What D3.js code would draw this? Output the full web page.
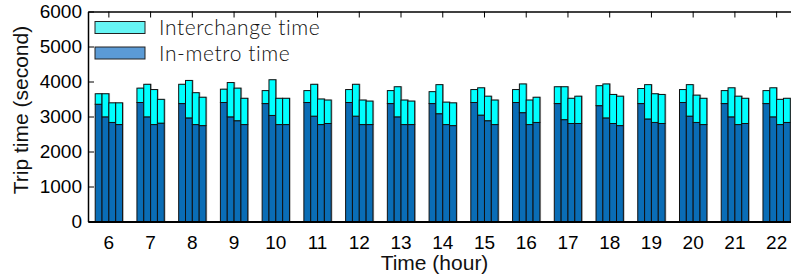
<!DOCTYPE html>
<html lang="en">
<head>
    <meta charset="UTF-8">
    <title>Trip time</title>
    <style>
        body { margin: 0; background: #fff; }
        svg { display: block; }
    </style>
</head>
<body></body>
<script src="https://cdn.jsdelivr.net/npm/d3@7"></script>
<script>
    // hours of the day
    let hours = [6, 7, 8, 9, 10, 11, 12, 13, 14, 15, 16, 17, 18, 19, 20, 21, 22];

    // in-metro time, one array per bar in each group
    let inMetro1 = [3350, 3400, 3370, 3400, 3370, 3400, 3400, 3370, 3370, 3400, 3400, 3370, 3310, 3370, 3400, 3370, 3370];
    let inMetro2 = [2990, 2990, 2960, 2990, 3030, 3010, 3010, 2990, 3080, 3040, 3110, 2910, 2960, 2930, 3010, 2990, 2990];
    let inMetro3 = [2830, 2770, 2770, 2880, 2770, 2770, 2770, 2770, 2770, 2880, 2770, 2800, 2800, 2830, 2830, 2770, 2770];
    let inMetro4 = [2770, 2810, 2740, 2770, 2770, 2800, 2770, 2770, 2740, 2770, 2830, 2800, 2740, 2800, 2770, 2800, 2830];

    // interchange time on top
    let interchange1 = [300, 410, 550, 380, 370, 340, 370, 370, 340, 370, 370, 480, 570, 430, 370, 370, 370];
    let interchange2 = [660, 930, 1070, 980, 1020, 910, 910, 860, 830, 780, 820, 940, 970, 980, 900, 830, 830];
    let interchange3 = [560, 1000, 910, 930, 750, 730, 700, 700, 640, 700, 700, 720, 830, 820, 780, 810, 720];
    let interchange4 = [620, 680, 810, 750, 750, 670, 670, 670, 650, 700, 720, 780, 840, 830, 750, 720, 690];

    let yTicks = [0, 1000, 2000, 3000, 4000, 5000, 6000];
    let legendLabels = ["Interchange time", "In-metro time"];

    let inMetro = [inMetro1, inMetro2, inMetro3, inMetro4];
    let interchange = [interchange1, interchange2, interchange3, interchange4];

    let width = 791;
    let height = 280;
    let plotLeft = 88, plotRight = 797.5, plotTop = 11.5, plotBottom = 221.5;

    let svg = d3.select("body")
                .append("svg")
                .attr("width", width)
                .attr("height", height)
                .style("font-family", "'Liberation Sans', Arial, sans-serif");

    let x = d3.scaleBand()
              .domain(hours)
              .range([plotLeft, plotRight])
              .paddingInner(0.345)
              .paddingOuter(0.1725);

    let xSub = d3.scaleBand()
                 .domain([0, 1, 2, 3])
                 .range([0, x.bandwidth()]);

    let y = d3.scaleLinear()
              .domain([0, 6000])
              .range([plotBottom, plotTop]);

    // flatten into rows for drawing
    let rows = [];
    hours.forEach(function (h, i) {
        for (let k = 0; k < 4; k++) {
            rows.push({ hour: h, slot: k, metro: inMetro[k][i], inter: interchange[k][i] });
        }
    });

    let bars = svg.append("g")
                  .selectAll("g")
                  .data(rows)
                  .enter().append("g")
                  .attr("transform", d => "translate(" + (x(d.hour) + xSub(d.slot)) + ",0)");

    // light grey shadow
    bars.append("rect")
        .attr("x", 1.2)
        .attr("y", d => y(d.metro + d.inter) - 0.5)
        .attr("width", xSub.bandwidth())
        .attr("height", d => plotBottom - y(d.metro + d.inter))
        .style("fill", "#a8a8a8");

    bars.append("rect")
        .attr("x", 0)
        .attr("y", d => y(d.metro))
        .attr("width", xSub.bandwidth())
        .attr("height", d => plotBottom - y(d.metro))
        .style("fill", "#0a6db6")
        .style("stroke", "#111")
        .style("stroke-width", 1);

    bars.append("rect")
        .attr("x", 0)
        .attr("y", d => y(d.metro + d.inter))
        .attr("width", xSub.bandwidth())
        .attr("height", d => y(d.metro) - y(d.metro + d.inter))
        .style("fill", "#00ffff")
        .style("stroke", "#111")
        .style("stroke-width", 1);

    // axes
    let yAxis = d3.axisLeft(y)
                  .tickValues(yTicks)
                  .tickFormat(d3.format("d"))
                  .tickSizeInner(-6)
                  .tickSizeOuter(0)
                  .tickPadding(6);

    let gy = svg.append("g")
                .attr("transform", "translate(" + plotLeft + ",0)")
                .call(yAxis);

    let yRight = d3.axisRight(y)
                   .tickValues(yTicks)
                   .tickFormat("")
                   .tickSizeInner(-6)
                   .tickSizeOuter(0);

    svg.append("g")
       .attr("transform", "translate(" + plotRight + ",0)")
       .call(yRight);

    let xAxis = d3.axisBottom(x)
                  .tickSizeInner(0)
                  .tickSizeOuter(0)
                  .tickPadding(14);

    let gx = svg.append("g")
                .attr("transform", "translate(0," + plotBottom + ")")
                .call(xAxis);

    let xTop = d3.axisTop(x)
                 .tickFormat("")
                 .tickSizeInner(-6)
                 .tickSizeOuter(0);

    svg.append("g")
       .attr("transform", "translate(0," + plotTop + ")")
       .call(xTop);

    svg.selectAll(".domain").style("stroke", "#000").style("stroke-width", 1.5);
    svg.selectAll(".tick line").style("stroke", "#000").style("stroke-width", 1);
    svg.selectAll(".tick text")
       .style("font-family", "'Liberation Sans', Arial, sans-serif")
       .style("font-size", "19px")
       .style("fill", "#000");
    gx.selectAll(".domain").style("stroke-width", 2);

    // axis titles
    svg.append("text")
       .attr("x", (plotLeft + 781) / 2)
       .attr("y", 270)
       .attr("text-anchor", "middle")
       .style("font-size", "21px")
       .style("fill", "#111")
       .text("Time (hour)");

    svg.append("text")
       .attr("transform", "translate(28,110) rotate(-90)")
       .attr("text-anchor", "middle")
       .style("font-size", "21px")
       .style("fill", "#111")
       .text("Trip time (second)");

    // legend
    let legendColors = ["#66f5f5", "#5b9bd6"];
    let legend = svg.append("g")
                    .selectAll("g")
                    .data(legendLabels)
                    .enter().append("g")
                    .attr("transform", (d, i) => "translate(95," + (21.5 + i * 25.5) + ")");

    legend.append("rect")
          .attr("width", 50)
          .attr("height", 12)
          .style("fill", (d, i) => legendColors[i])
          .style("stroke", "#222")
          .style("stroke-width", 1);

    legend.append("text")
          .attr("x", 64)
          .attr("y", 13.5)
          .style("font-family", "Lato, sans-serif")
          .style("font-weight", 300)
          .style("font-size", "21px")
          .style("letter-spacing", "0.6px")
          .style("fill", "#111")
          .text(d => d);
</script>
</html>
